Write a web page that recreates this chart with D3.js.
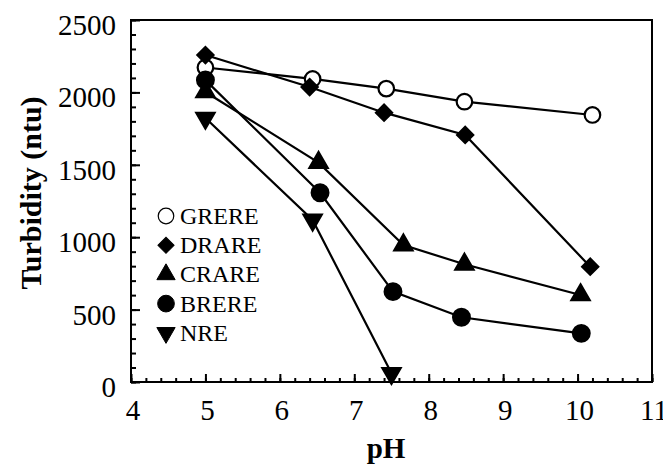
<!DOCTYPE html>
<html>
<head>
<meta charset="utf-8">
<script src="https://cdn.jsdelivr.net/npm/d3@7"></script>
<style>
  body { margin: 0; background: #fff; }
  text { font-family: "Liberation Serif", "Times New Roman", Times, serif; fill: #000; }
</style>
</head>
<body>
<svg id="chart"></svg>
<script>
// data
const seriesNames = ['GRERE', 'DRARE', 'CRARE', 'BRERE', 'NRE']
const grerePH = [5.0, 6.44, 7.43, 8.48, 10.2]
const grereTurb = [2172, 2093, 2026, 1936, 1844]
const drarePH = [5.0, 6.4, 7.4, 8.49, 10.17]
const drareTurb = [2258, 2037, 1860, 1706, 796]
const crarePH = [5.0, 6.52, 7.66, 8.48, 10.04]
const crareTurb = [2003, 1515, 946, 813, 601]
const brerePH = [5.0, 6.54, 7.52, 8.44, 10.05]
const brereTurb = [2085, 1307, 624, 447, 336]
const nrePH = [5.0, 6.44, 7.5]
const nreTurb = [1823, 1119, 60]

const xTicks = [4, 5, 6, 7, 8, 9, 10, 11]
const yTicks = [0, 500, 1000, 1500, 2000, 2500]

const width = 663
const height = 468
const margin = {left: 131, right: 11, top: 20, bottom: 86}

const svg = d3.select('#chart')
    .attr('width', width)
    .attr('height', height)

const x = d3.scaleLinear().domain([4, 11]).range([margin.left, width - margin.right])
const y = d3.scaleLinear().domain([0, 2500]).range([height - margin.bottom, margin.top])

// frame
svg.append('rect')
    .attr('x', x(4))
    .attr('y', y(2500))
    .attr('width', x(11) - x(4))
    .attr('height', y(0) - y(2500))
    .attr('fill', 'none')
    .attr('stroke', 'black')
    .attr('stroke-width', 2)

// ticks point inward
const xAxisMinor = d3.axisTop(x).tickValues(d3.range(4, 11.01, 0.2)).tickSize(4).tickFormat('')
const xAxisMajor = d3.axisTop(x).tickValues(xTicks).tickSize(8).tickFormat('')
const yAxisMinor = d3.axisRight(y).tickValues(d3.range(0, 2501, 100)).tickSize(5).tickFormat('')
const yAxisMajor = d3.axisRight(y).tickValues(yTicks).tickSize(9).tickFormat('')

for (const ax of [xAxisMinor, xAxisMajor]) {
    svg.append('g').attr('transform', `translate(0,${y(0)})`).call(ax)
        .call(g => g.select('.domain').remove())
        .selectAll('line').attr('stroke', 'black').attr('stroke-width', 2)
}
for (const ax of [yAxisMinor, yAxisMajor]) {
    svg.append('g').attr('transform', `translate(${x(4)},0)`).call(ax)
        .call(g => g.select('.domain').remove())
        .selectAll('line').attr('stroke', 'black').attr('stroke-width', 2)
}

// tick labels
svg.selectAll('.xlab').data(xTicks).enter().append('text')
    .attr('x', d => x(d) + 2)
    .attr('y', 420)
    .attr('text-anchor', 'middle')
    .attr('font-size', '29px')
    .text(d => d)

svg.selectAll('.ylab').data(yTicks).enter().append('text')
    .attr('x', 116)
    .attr('y', d => y(d) + 15)
    .attr('text-anchor', 'end')
    .attr('font-size', '29px')
    .text(d => d)

// axis titles
svg.append('text')
    .attr('x', 386)
    .attr('y', 458)
    .attr('text-anchor', 'middle')
    .attr('font-size', '29px')
    .attr('font-weight', 'bold')
    .text('pH')

svg.append('text')
    .attr('transform', 'translate(41,193) rotate(-90)')
    .attr('text-anchor', 'middle')
    .attr('font-size', '30px')
    .attr('font-weight', 'bold')
    .text('Turbidity (ntu)')

// series
const series = [
    {name: seriesNames[0], ph: grerePH, turb: grereTurb, shape: d3.symbolCircle, size: 190, rot: 0, fill: 'white'},
    {name: seriesNames[1], ph: drarePH, turb: drareTurb, shape: d3.symbolSquare, size: 130, rot: 45, fill: 'black'},
    {name: seriesNames[2], ph: crarePH, turb: crareTurb, shape: d3.symbolTriangle, size: 145, rot: 0, fill: 'black'},
    {name: seriesNames[3], ph: brerePH, turb: brereTurb, shape: d3.symbolCircle, size: 220, rot: 0, fill: 'black'},
    {name: seriesNames[4], ph: nrePH, turb: nreTurb, shape: d3.symbolTriangle, size: 145, rot: 180, fill: 'black'}
]

const line = d3.line().x(d => x(d[0])).y(d => y(d[1]))

series.forEach(s => {
    const pts = s.ph.map((p, i) => [p, s.turb[i]])
    svg.append('path')
        .datum(pts)
        .attr('d', line)
        .attr('fill', 'none')
        .attr('stroke', 'black')
        .attr('stroke-width', 2.2)
})

series.forEach(s => {
    const pts = s.ph.map((p, i) => [p, s.turb[i]])
    svg.selectAll(null).data(pts).enter().append('path')
        .attr('d', d3.symbol().type(s.shape).size(s.size))
        .attr('transform', d => `translate(${x(d[0])},${y(d[1])}) rotate(${s.rot})`)
        .attr('fill', s.fill)
        .attr('stroke', 'black')
        .attr('stroke-width', 2.2)
})

// legend
const legend = svg.append('g')
series.forEach((s, i) => {
    const ly = 216 + i * 29.2
    legend.append('path')
        .attr('d', d3.symbol().type(s.shape).size(s.size))
        .attr('transform', `translate(166,${ly}) rotate(${s.rot})`)
        .attr('fill', s.fill)
        .attr('stroke', 'black')
        .attr('stroke-width', s.fill === 'white' ? 1.2 : 1)
    legend.append('text')
        .attr('x', 180)
        .attr('y', ly + 8)
        .attr('font-size', '24px')
        .text(s.name)
})
</script>
</body>
</html>
